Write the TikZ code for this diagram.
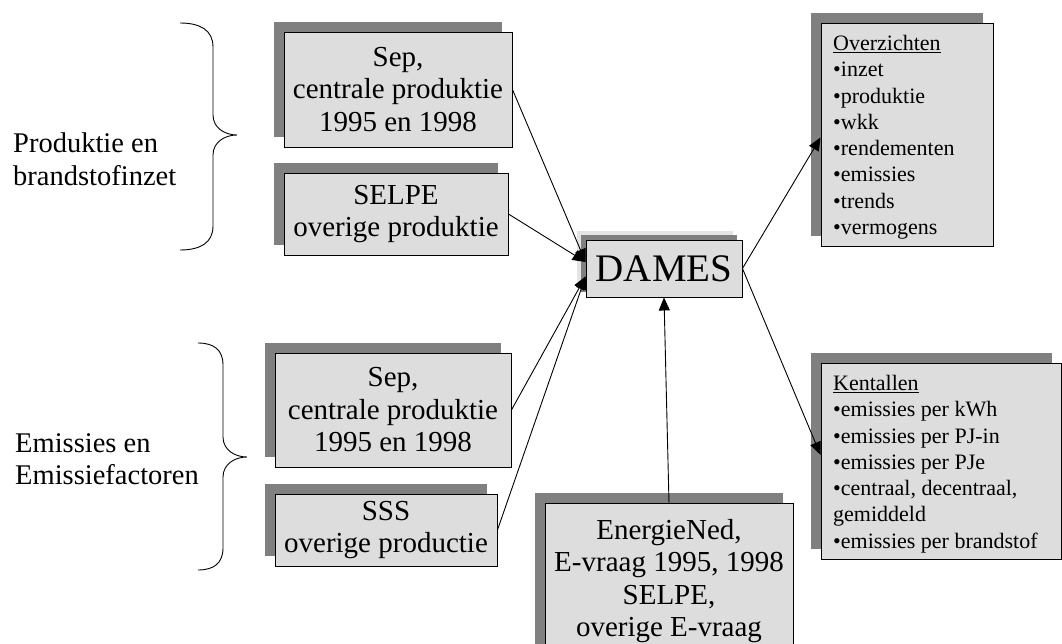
\documentclass[tikz,border=0pt]{standalone}
\usepackage{fontspec}
\setmainfont{Liberation Serif}
\usetikzlibrary{shadows,arrows.meta}
\definecolor{boxfill}{HTML}{DDDDDD}
\definecolor{shadowgray}{HTML}{808080}
\definecolor{haze}{HTML}{E4E4E4}
\begin{document}
\begin{tikzpicture}[x=1pt,y=-1pt,
  card/.style={draw=black, line width=0.9pt, fill=boxfill, inner sep=0pt, align=center,
    font=\fontsize{29}{32.5}\selectfont,
    general shadow={fill=shadowgray, shadow xshift=-10pt, shadow yshift=10pt}},
  listtext/.style={anchor=north west, inner sep=0pt, align=left,
    font=\fontsize{22}{26.3}\selectfont},
  grouplabel/.style={anchor=north west, inner sep=0pt, align=left,
    font=\fontsize{28.5}{32.5}\selectfont},
  link/.style={line width=0.9pt, -{Triangle[length=13pt,width=11pt]}},
  brace/.style={line width=0.9pt}
]
\useasboundingbox (0,0) rectangle (1062,644);
\clip (0,0) rectangle (1062,644);

% group labels and braces
\node[grouplabel] (prodlabel) at (13,133) {Produktie en\\brandstofinzet};
\node[grouplabel] (emislabel) at (15,433) {Emissies en\\Emissiefactoren};

\draw[brace] (180,23) .. controls (200,23) and (213,30) .. (213,47) -- (213,115)
  .. controls (213,128) and (225,135) .. (237,135)
  .. controls (225,135) and (213,142) .. (213,155) -- (213,226)
  .. controls (213,243) and (200,250) .. (180,250);
\draw[brace] (198,343) .. controls (214,343) and (223,350) .. (223,365) -- (223,437)
  .. controls (223,450) and (235,457) .. (247,457)
  .. controls (235,457) and (223,464) .. (223,477) -- (223,548)
  .. controls (223,563) and (214,570) .. (198,570);

% source boxes
\node[card, minimum width=228pt, minimum height=115pt] (srcA) at (398,89.5)
  {Sep,\\centrale produktie\\1995 en 1998};
\node[card, minimum width=224pt, minimum height=82pt] (srcB) at (396,214)
  {SELPE\\overige produktie};
\node[card, minimum width=236pt, minimum height=114pt] (srcC) at (393,410)
  {Sep,\\centrale produktie\\1995 en 1998};
\node[card, minimum width=222pt, minimum height=72pt] (srcD) at (386,530)
  {SSS\\overige productie};
\node[card, anchor=north, minimum width=248pt, inner ysep=15.5pt] (energ) at (669,503)
  {EnergieNed,\\E-vraag 1995, 1998\\SELPE,\\overige E-vraag};

% central model
\node[draw=black, line width=0.9pt, fill=boxfill, inner sep=0pt,
  minimum width=156pt, minimum height=57pt, font=\fontsize{39}{41}\selectfont,
  general shadow={fill=haze, shadow xshift=-9pt, shadow yshift=9pt},
  general shadow={fill=shadowgray, shadow xshift=-5pt, shadow yshift=5pt}]
  (dames) at (664,268.5) {DAMES};

% output boxes
\node[card, minimum width=172pt, minimum height=223pt] (over) at (907,134.5) {};
\node[listtext] (overtext) at (833,35)
  {\underline{Overzichten}\\•inzet\\•produktie\\•wkk\\•rendementen\\•emissies\\•trends\\•vermogens};
\node[card, minimum width=240.5pt, minimum height=196pt] (kent) at (941.25,461) {};
\node[listtext] (kenttext) at (833,375)
  {\underline{Kentallen}\\•emissies per kWh\\•emissies per PJ-in\\•emissies per PJe\\•centraal, decentraal,\\gemiddeld\\•emissies per brandstof};

% connectors
\draw[link] (srcA.east) -- ([yshift=6.5pt]dames.west);
\draw[link] (srcB.east) -- ([yshift=6.5pt]dames.west);
\draw[link] (srcC.east) -- ([yshift=-8pt]dames.west);
\draw[link] (srcD.east) -- ([yshift=-8pt]dames.west);
\draw[link] (energ.north) -- (dames.south);
\draw[link] (dames.east) -- ([yshift=-3pt]over.west);
\draw[link] (dames.east) -- ([yshift=6pt]kent.west);
\end{tikzpicture}
\end{document}
